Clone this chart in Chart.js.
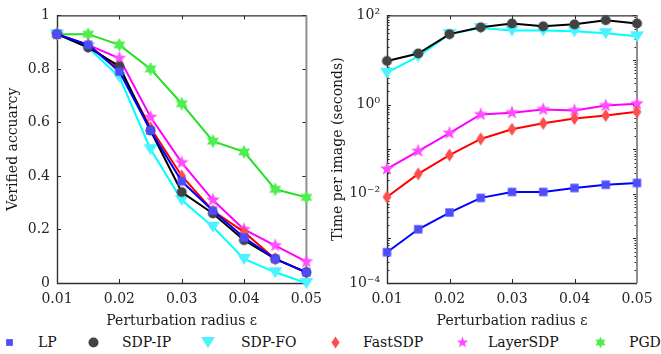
<!DOCTYPE html>
<html><head><meta charset="utf-8">
<script src="https://cdn.jsdelivr.net/npm/chart.js@4/dist/chart.umd.min.js"></script>
<style>
html,body{margin:0;padding:0;background:#fff;width:661px;height:354px;overflow:hidden;}
#c1{position:absolute;left:0;top:0;}
#c2{position:absolute;left:330px;top:0;}
.lg{position:absolute;top:332px;height:20px;font-family:"DejaVu Serif",serif;font-size:14px;color:#111;line-height:20px;white-space:nowrap;}
.lm{position:absolute;}
</style></head>
<body>
<canvas id="c1" width="330" height="330"></canvas>
<canvas id="c2" width="331" height="330"></canvas>
<div id="legend"></div>
<script>
// ---- data ----
const eps = [0.01,0.015,0.02,0.025,0.03,0.035,0.04,0.045,0.05];
const xTicks = [0.01,0.02,0.03,0.04,0.05];
const accTicks = [0,0.2,0.4,0.6,0.8,1];
const timeTicks = [1e-4,1e-2,1e0,1e2];
const seriesNames = ['LP','SDP-IP','SDP-FO','FastSDP','LayerSDP','PGD'];

const accLP       = [0.93,0.89,0.79,0.57,0.38,0.27,0.17,0.09,0.04];
const accSDPIP    = [0.93,0.88,0.81,0.57,0.34,0.26,0.16,0.09,0.04];
const accSDPFO    = [0.93,0.88,0.77,0.50,0.31,0.21,0.09,0.04,0.00];
const accFastSDP  = [0.93,0.89,0.80,0.58,0.40,0.27,0.19,0.09,0.04];
const accLayerSDP = [0.93,0.89,0.84,0.62,0.45,0.31,0.20,0.14,0.08];
const accPGD      = [0.93,0.93,0.89,0.80,0.67,0.53,0.49,0.35,0.32];

const timeLP       = [0.00049,0.0016,0.0038,0.0081,0.011,0.011,0.0135,0.016,0.0175];
const timeSDPIP    = [9.5,14,38,54,66,57,63,78,66];
const timeSDPFO    = [5.2,12,38,52,46,46,44,40,34];
const timeFastSDP  = [0.0085,0.028,0.074,0.17,0.28,0.38,0.49,0.57,0.69];
const timeLayerSDP = [0.036,0.091,0.23,0.6,0.66,0.78,0.74,0.95,1.05];

// ---- styles ----
const lineColors = {'LP':'#0000ff','SDP-IP':'#000000','SDP-FO':'#00ffff','FastSDP':'#ff0000','LayerSDP':'#ff00ff','PGD':'#22e022'};
const fillColors = {'LP':'#4d4dff','SDP-IP':'#424242','SDP-FO':'#4ef2ff','FastSDP':'#ff4d4d','LayerSDP':'#ff4dff','PGD':'#4dee4d'};
const shapes = {'LP':'square','SDP-IP':'circle','SDP-FO':'tri','FastSDP':'diamond','LayerSDP':'star','PGD':'hex'};

function makeMarker(shape, s, fill){
  const c = document.createElement('canvas');
  const W = Math.ceil(s*1.3)+2;
  c.width = W; c.height = W;
  const g = c.getContext('2d');
  const cx = W/2, cy = W/2;
  g.fillStyle = fill;
  g.beginPath();
  if(shape==='square'){ const h=s*0.42; g.rect(cx-h,cy-h,2*h,2*h); }
  else if(shape==='circle'){ g.arc(cx,cy,s*0.5,0,Math.PI*2); }
  else if(shape==='tri'){ const w=s*0.58; g.moveTo(cx-w,cy-s*0.42); g.lineTo(cx+w,cy-s*0.42); g.lineTo(cx,cy+s*0.5); g.closePath(); }
  else if(shape==='diamond'){ const w=s*0.4,h=s*0.6; g.moveTo(cx,cy-h); g.lineTo(cx+w,cy); g.lineTo(cx,cy+h); g.lineTo(cx-w,cy); g.closePath(); }
  else if(shape==='star'){ const R=s*0.6,r=R*0.42; for(let i=0;i<10;i++){const a=-Math.PI/2+i*Math.PI/5; const rr=i%2?r:R; const px=cx+rr*Math.cos(a),py=cy+rr*Math.sin(a); i?g.lineTo(px,py):g.moveTo(px,py);} g.closePath(); }
  else if(shape==='hex'){ const R=s*0.58,r=R*0.55; for(let i=0;i<12;i++){const a=-Math.PI/2+i*Math.PI/6; const rr=i%2?r:R; const px=cx+rr*Math.cos(a),py=cy+rr*Math.sin(a); i?g.lineTo(px,py):g.moveTo(px,py);} g.closePath(); }
  g.fill();
  return c;
}
const plotSize = {'LP':10,'SDP-IP':10,'SDP-FO':12,'FastSDP':11,'LayerSDP':12,'PGD':12};
const legSize  = {'LP':8,'SDP-IP':10,'SDP-FO':12,'FastSDP':10,'LayerSDP':10,'PGD':10};

function ds(name, vals){
  return {
    label:name,
    data: eps.map((x,i)=>({x:x,y:vals[i]})),
    borderColor: lineColors[name],
    backgroundColor: fillColors[name],
    borderWidth: 2,
    pointStyle: makeMarker(shapes[name], plotSize[name], fillColors[name]),
    pointRadius: 6,
    pointHoverRadius: 6,
    tension: 0,
    clip: false
  };
}

const FONT = {family:'"DejaVu Serif", serif', size:14};
const TXT = '#262626';

const frame = {
  id:'frame',
  beforeDatasetsDraw(chart, args, opts){
    const ctx = chart.ctx, a = chart.chartArea;
    const xs = chart.scales.x, ys = chart.scales.y;
    ctx.save();
    ctx.strokeStyle = TXT; ctx.lineWidth = 1;
    ctx.beginPath();
    xTicks.forEach(v=>{ const p=Math.round(xs.getPixelForValue(v))+0.5; ctx.moveTo(p,a.bottom); ctx.lineTo(p,a.bottom-4); ctx.moveTo(p,a.top); ctx.lineTo(p,a.top+4); });
    opts.major.forEach(v=>{ const p=Math.round(ys.getPixelForValue(v))+0.5; ctx.moveTo(a.left,p); ctx.lineTo(a.left+4,p); ctx.moveTo(a.right,p); ctx.lineTo(a.right-4,p); });
    (opts.minor||[]).forEach(v=>{ const p=Math.round(ys.getPixelForValue(v))+0.5; ctx.moveTo(a.left,p); ctx.lineTo(a.left+2.5,p); ctx.moveTo(a.right,p); ctx.lineTo(a.right-2.5,p); });
    ctx.stroke();
    ctx.lineWidth = 1.4;
    ctx.strokeStyle = '#303030';
    ctx.beginPath();
    ctx.moveTo(a.right, a.top+0.5); ctx.lineTo(a.left+0.5, a.top+0.5); ctx.lineTo(a.left+0.5, a.bottom+0.5); ctx.lineTo(a.right, a.bottom+0.5);
    ctx.stroke();
    ctx.strokeStyle = '#8f8f8f'; ctx.lineWidth = 2;
    ctx.beginPath(); ctx.moveTo(a.right, a.top); ctx.lineTo(a.right, a.bottom); ctx.stroke();
    ctx.restore();
  }
};

function xScale(){
  return {
    type:'linear', min:0.01, max:0.05,
    afterBuildTicks: s=>{ s.ticks = xTicks.map(v=>({value:v})); },
    afterFit: s=>{ s.height = 47; },
    grid:{display:false, drawTicks:false},
    border:{display:false},
    ticks:{font:FONT, color:TXT, padding:8, maxRotation:0, autoSkip:false, callback:v=>v.toFixed(2)},
    title:{display:true, text:'Perturbation radius ε', font:FONT, color:'#1a1a1a', padding:{top:5,bottom:0}}
  };
}

const common = {
  responsive:false, animation:false, events:[],
  plugins:{legend:{display:false}, tooltip:{enabled:false}},
};

const minorLog = [];
for(let e=-4;e<2;e++){ for(let k=2;k<=9;k++){ minorLog.push(k*Math.pow(10,e)); } }

new Chart(document.getElementById('c1'), {
  type:'line',
  data:{datasets:[ds('LP',accLP),ds('SDP-IP',accSDPIP),ds('SDP-FO',accSDPFO),ds('FastSDP',accFastSDP),ds('LayerSDP',accLayerSDP),ds('PGD',accPGD)]},
  options:Object.assign({}, common, {
    layout:{padding:{left:0,right:23,top:13,bottom:0}},
    plugins:{legend:{display:false}, tooltip:{enabled:false}, frame:{major:accTicks}},
    scales:{
      x:xScale(),
      y:{type:'linear',min:0,max:1,
        afterBuildTicks: s=>{ s.ticks = accTicks.map(v=>({value:v})); },
        afterFit: s=>{ s.width = 57; },
        grid:{display:false, drawTicks:false}, border:{display:false},
        ticks:{font:FONT,color:TXT,padding:7,autoSkip:false,callback:v=>(v===0||v===1)?String(v):v.toFixed(1)},
        title:{display:true,text:'Verified accuarcy',font:FONT,color:'#1a1a1a',padding:{top:5,bottom:0}}
      }
    }
  }),
  plugins:[frame]
});

const sup = {'-':'⁻','0':'⁰','1':'¹','2':'²','3':'³','4':'⁴'};
function logLabel(v){ const e=Math.round(Math.log10(v)); return '10'+String(e).split('').map(c=>sup[c]).join(''); }

new Chart(document.getElementById('c2'), {
  type:'line',
  data:{datasets:[ds('LP',timeLP),ds('SDP-IP',timeSDPIP),ds('SDP-FO',timeSDPFO),ds('FastSDP',timeFastSDP),ds('LayerSDP',timeLayerSDP)]},
  options:Object.assign({}, common, {
    layout:{padding:{left:0,right:24,top:13,bottom:0}},
    plugins:{legend:{display:false}, tooltip:{enabled:false}, frame:{major:[1e-4,1e-3,1e-2,1e-1,1e0,1e1,1e2], minor:minorLog}},
    scales:{
      x:xScale(),
      y:{type:'logarithmic',min:1e-4,max:1e2,
        afterBuildTicks: s=>{ s.ticks = timeTicks.map(v=>({value:v})); },
        afterFit: s=>{ s.width = 57; },
        grid:{display:false, drawTicks:false}, border:{display:false},
        ticks:{font:FONT,color:TXT,padding:7,autoSkip:false,callback:v=>logLabel(v)},
        title:{display:true,text:'Time per image (seconds)',font:FONT,color:'#1a1a1a',padding:{top:0,bottom:0}}
      }
    }
  }),
  plugins:[frame]
});

// legend
const legMarkX = [9,93,208,335,462,600];
const legTextX = [38,122,241,363,488,629];
const L = document.getElementById('legend');
seriesNames.forEach((n,i)=>{
  const m = makeMarker(shapes[n], legSize[n], fillColors[n]);
  m.className='lm';
  m.style.left = (legMarkX[i]-m.width/2)+'px';
  m.style.top = (342-m.height/2)+'px';
  L.appendChild(m);
  const t = document.createElement('div');
  t.className='lg'; t.style.left = legTextX[i]+'px'; t.textContent = n;
  L.appendChild(t);
});
</script>
</body></html>
